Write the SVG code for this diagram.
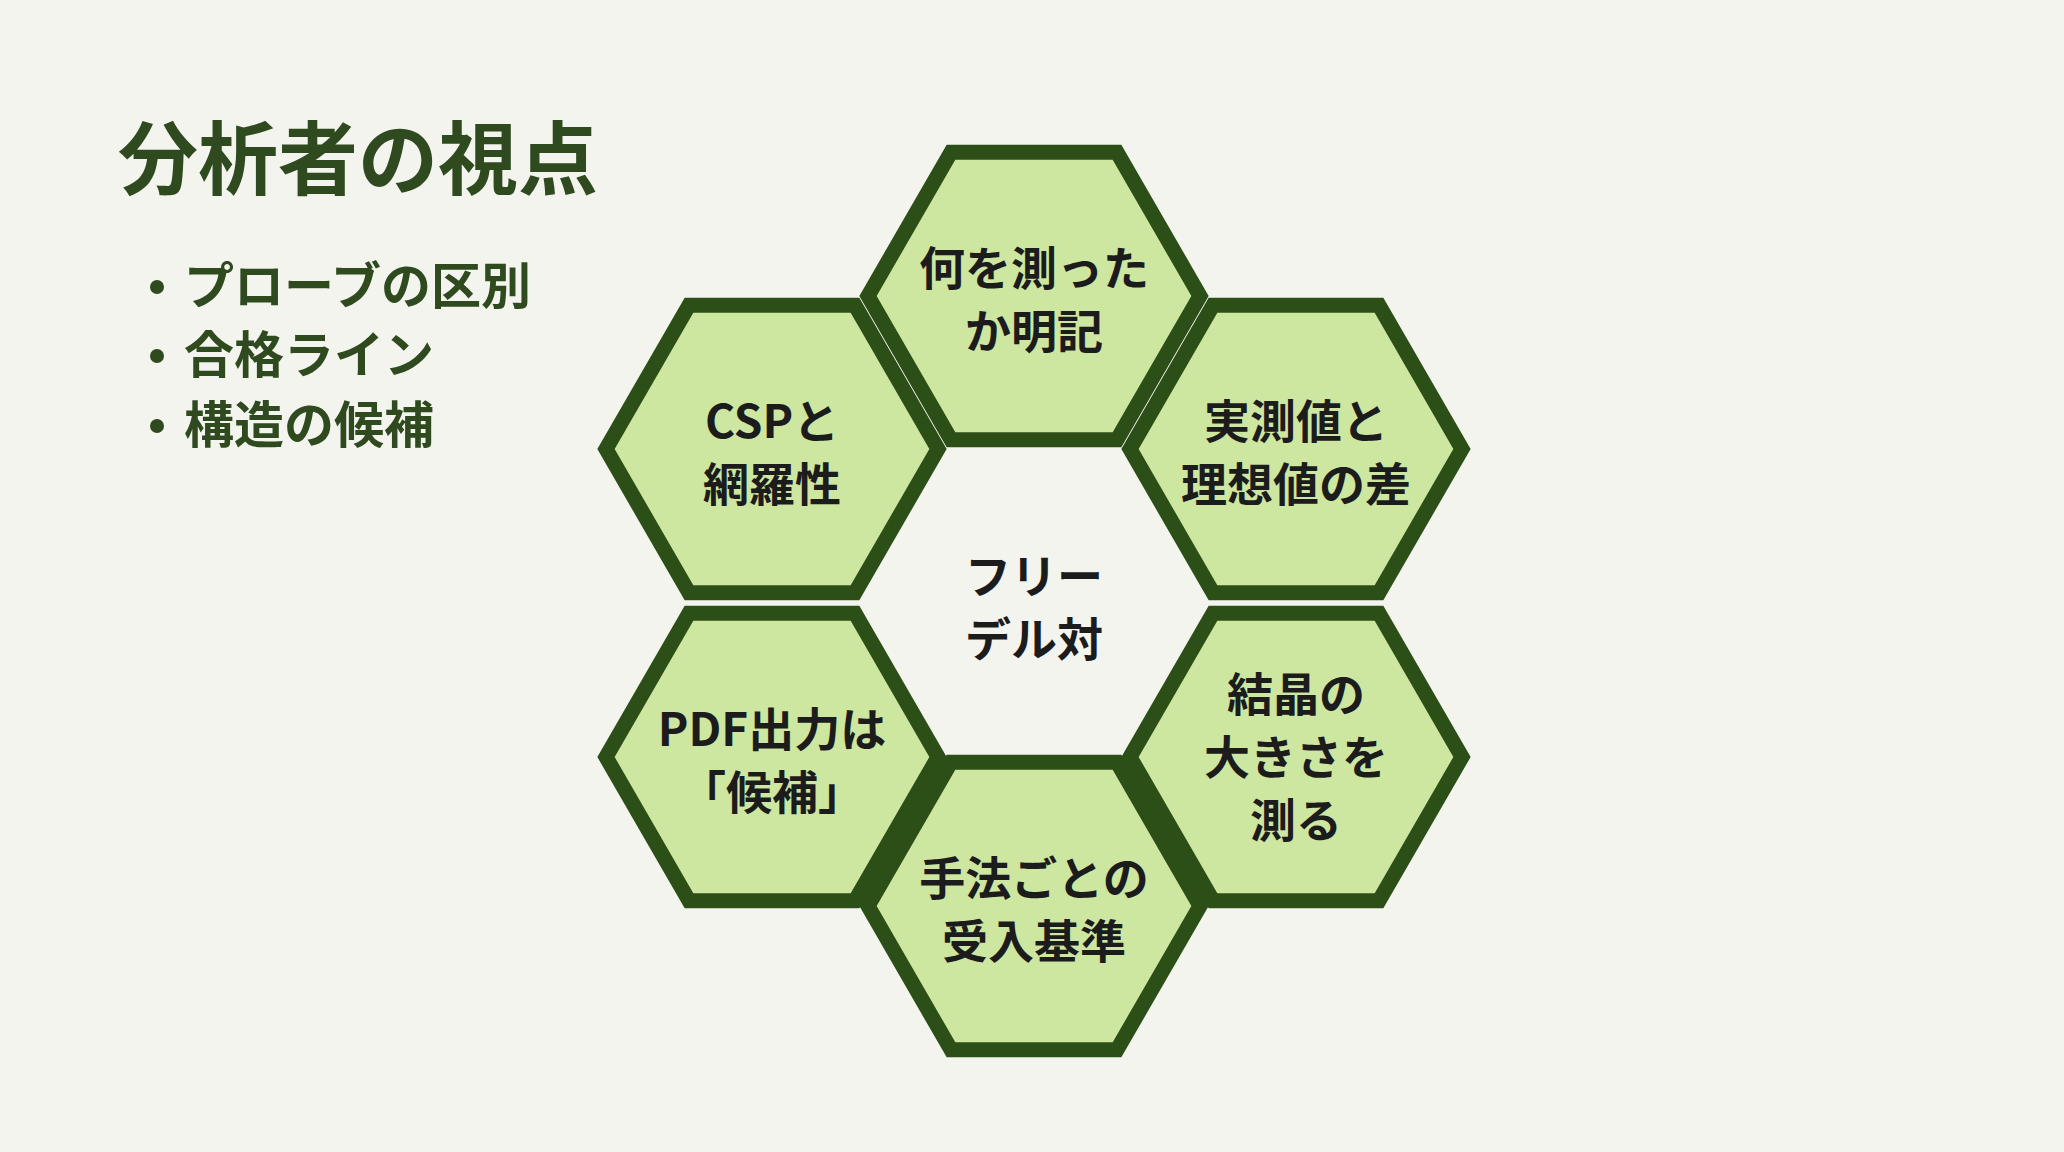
<svg xmlns="http://www.w3.org/2000/svg" width="2064" height="1152" viewBox="0 0 2064 1152">
<defs>
<style>
.hex{fill:#cde6a0;stroke:#2c4f17;stroke-width:15;stroke-linejoin:miter}
.hexc{fill:#f4f4ef;stroke:none}
.t{font-family:"Noto Sans CJK JP","Noto Sans",sans-serif;font-weight:700;font-size:46px;fill:#1c1c1c;text-anchor:middle}
.title{font-family:"Noto Sans CJK JP",sans-serif;font-weight:700;font-size:80px;fill:#2e4a1e}
.b{font-family:"Noto Sans CJK JP",sans-serif;font-weight:700;font-size:50px;fill:#2e4a1e}
</style>
<path id="h" d="M-166,0 L-83,-143.8 L83,-143.8 L166,0 L83,143.8 L-83,143.8 Z"/>
</defs>
<rect width="2064" height="1152" fill="#f4f4ef"/>
<g id="title"><text class="title" x="118" y="188">分析者の視点</text></g>
<g id="bullets">
<circle cx="157" cy="287" r="7" fill="#2e4a1e"/><text class="b" x="184" y="304">プローブの区別</text>
<circle cx="157" cy="356" r="7" fill="#2e4a1e"/><text class="b" x="184" y="373">合格ライン</text>
<circle cx="157" cy="426" r="7" fill="#2e4a1e"/><text class="b" x="184" y="443">構造の候補</text>
</g>
<g id="connectors"></g>
<g id="n-center"><text class="t" x="1034" y="593">フリー</text><text class="t" x="1034" y="656">デル対</text></g>
<g id="n-top"><use href="#h" class="hex" x="1034" y="296"/><text class="t" x="1034" y="285">何を測った</text><text class="t" x="1034" y="348">か明記</text></g>
<g id="n-ur"><use href="#h" class="hex" x="1296" y="449"/><text class="t" x="1296" y="438">実測値と</text><text class="t" x="1296" y="501">理想値の差</text></g>
<g id="n-lr"><use href="#h" class="hex" x="1296" y="757"/><text class="t" x="1296" y="711">結晶の</text><text class="t" x="1296" y="774">大きさを</text><text class="t" x="1296" y="837">測る</text></g>
<g id="n-bottom"><use href="#h" class="hex" x="1034" y="906"/><text class="t" x="1034" y="895">手法ごとの</text><text class="t" x="1034" y="958">受入基準</text></g>
<g id="n-ll"><use href="#h" class="hex" x="772" y="757"/><text class="t" x="772" y="746">PDF出力は</text><text class="t" x="772" y="809">「候補」</text></g>
<g id="n-ul"><use href="#h" class="hex" x="772" y="449"/><text class="t" x="772" y="438">CSPと</text><text class="t" x="772" y="501">網羅性</text></g>
</svg>
